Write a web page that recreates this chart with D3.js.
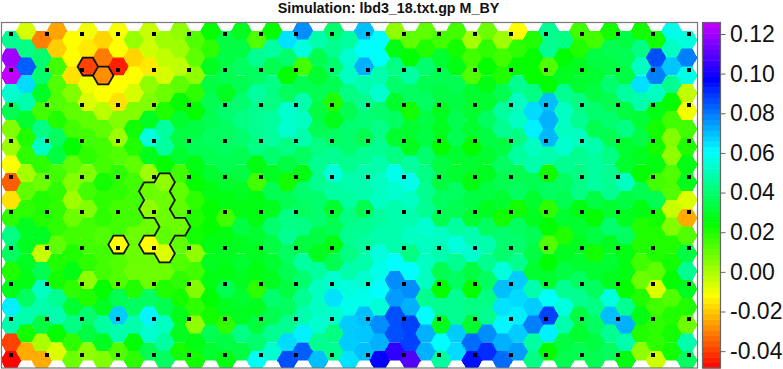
<!DOCTYPE html>
<html>
<head>
<meta charset="utf-8">
<script src="https://cdn.jsdelivr.net/npm/d3@7"></script>
<style>
  html, body { margin: 0; padding: 0; background: #fff; }
  svg { display: block; }
  text { font-family: "Liberation Sans", Arial, sans-serif; }
</style>
</head>
<body>
<div id="chart"></div>
<script>
const titleText = "Simulation: lbd3_18.txt.gp M_BY";

// component planes, one list per hex column, value x 1000
const hexColumns = [
  [45,120,125,54,36,6,2,-12,-35,-16,18,43,38,20,28,63,49,-39,-48],
  [-6,43,84,66,49,31,20,18,1,11,18,29,29,29,27,38,49,22,-24],
  [-30,40,40,30,15,43,52,18,9,20,20,29,-4,36,52,49,34,0,-24],
  [-25,-19,15,13,13,20,38,34,15,18,18,18,11,20,22,45,49,24,-7],
  [-12,-12,-16,6,11,15,24,11,6,2,9,15,20,27,18,31,43,18,9],
  [-10,-15,-39,-10,-7,11,15,18,6,15,6,15,15,18,4,20,40,34,4],
  [-18,-31,-28,-12,-2,11,15,15,22,18,18,13,15,15,24,29,47,29,6],
  [-11,-12,-44,-12,-16,6,2,13,18,18,15,15,-12,13,13,36,68,49,13],
  [3,-18,-12,-6,6,22,20,11,15,15,15,9,9,9,20,38,49,25,18],
  [-4,-5,-15,4,6,29,56,28,2,9,4,9,-12,9,9,38,62,54,36],
  [2,-3,-6,9,20,47,47,24,4,9,9,11,-7,9,20,36,52,47,38],
  [4,2,-3,11,24,31,34,31,15,11,11,9,11,13,18,22,28,29,22],
  [13,11,4,18,24,34,36,27,24,18,20,22,4,15,6,18,4,27,22],
  [24,18,29,34,36,36,38,36,31,27,24,24,27,29,27,25,22,36,31],
  [34,34,36,29,40,38,38,36,31,27,15,27,29,27,36,29,18,34,27],
  [29,34,38,36,40,43,40,36,34,29,27,34,29,31,29,31,29,43,34],
  [13,45,38,47,45,45,43,27,15,27,27,31,29,27,18,29,33,40,59],
  [24,47,36,43,43,47,47,40,29,36,29,40,34,31,29,40,36,45,54],
  [65,40,24,38,54,54,43,34,22,36,43,45,38,36,34,38,45,66,86],
  [77,56,15,36,49,52,49,38,27,40,38,43,34,47,40,45,49,63,84],
  [49,36,31,36,34,36,43,45,45,40,40,34,29,47,52,52,54,45,70],
  [40,45,40,36,20,28,38,45,56,47,31,36,27,36,54,65,54,43,45],
  [47,54,52,43,36,40,40,45,49,47,43,45,43,49,56,58,68,68,65],
  [70,61,72,49,45,41,36,45,49,49,36,45,47,49,54,58,70,69,70],
  [61,60,49,54,40,43,45,49,52,52,47,49,56,58,61,55,77,72,97],
  [4,27,43,40,31,38,31,43,58,54,49,49,49,61,77,75,86,86,104],
  [11,25,47,38,22,31,29,47,58,52,49,52,43,61,77,72,88,88,109],
  [11,20,40,36,38,34,34,40,43,45,45,54,52,52,52,45,61,72,72],
  [15,31,36,34,29,29,24,34,34,38,36,52,49,36,24,45,29,61,47],
  [15,22,27,36,34,36,36,31,31,38,36,47,56,45,38,45,45,68,66],
  [1,15,13,31,31,31,24,31,27,34,31,49,54,34,24,43,31,82,95],
  [9,18,24,27,31,38,34,31,29,34,29,38,49,45,38,43,45,77,91],
  [2,15,20,36,47,45,34,38,36,31,22,40,40,56,70,65,62,72,82],
  [-12,18,24,45,52,52,43,47,36,38,22,38,40,45,68,66,63,68,75],
  [20,24,24,43,66,63,52,49,36,31,29,36,34,31,49,68,79,47,43],
  [45,45,13,25,70,72,71,49,22,38,18,25,13,25,31,60,88,63,24],
  [43,25,29,45,52,52,54,45,38,36,31,20,29,34,45,56,49,34,36],
  [15,20,29,31,43,45,52,45,43,43,27,31,29,31,38,45,34,31,36],
  [15,34,31,34,40,36,49,47,47,34,24,34,22,31,38,43,38,34,36],
  [22,36,34,40,36,40,36,43,45,45,31,40,29,31,29,56,70,45,38],
  [34,36,34,47,34,43,31,31,52,34,29,38,27,27,24,45,72,49,27],
  [22,43,52,65,49,32,34,29,24,36,27,20,20,15,9,20,27,20,4],
  [22,86,79,52,27,22,22,27,15,36,22,20,20,11,-7,15,18,18,-5],
  [58,52,69,45,24,15,6,4,13,13,-4,6,20,22,24,13,20,22,22],
  [56,79,57,-3,-10,15,20,27,28,-7,-24,13,34,45,29,20,9,49,38],
];

// hexes inside the black contours, as [column, row]
const outlinedHexes = [
  [5,2],[6,2],
  [7,12],
  [9,9],[9,10],[9,12],[10,8],[10,9],[10,10],[10,11],[10,12],[11,11],
];

const colorTicks = [-0.04, -0.02, 0, 0.02, 0.04, 0.06, 0.08, 0.1, 0.12];
const colorTickLabels = ["-0.04", "-0.02", "0.00", "0.02", "0.04", "0.06", "0.08", "0.10", "0.12"];
const colorDomain = [-0.0485, 0.1258];
const markerCols = d3.range(20);
const markerRows = d3.range(10);

const svgWidth = 783;
const svgHeight = 369;
const plot = { left: 1.5, top: 22.5, right: 697.5, bottom: 368 };
const bar = { left: 702.5, right: 720.5 };
const hexRadius = 10.25;

const svg = d3.select("#chart").append("svg").attr("width", svgWidth).attr("height", svgHeight);

// Scales
const x = d3.scaleLinear().domain([0, 44]).range([11, 687]);
const y = d3.scaleLinear().domain([0, 18]).range([31, 351.4]);
const markerX = d3.scaleLinear().domain([0, 19]).range([11, 689]);
const markerY = d3.scaleLinear().domain([0, 9]).range([34, 355]);
const hue = d3.scaleLinear().domain(colorDomain).range([0, 287]).clamp(true);
const barY = d3.scaleLinear().domain(colorDomain).range([plot.bottom, plot.top]);
const color = (v) => d3.hsl(hue(v), 1, 0.5).formatHex();

const hexX = (c) => x(c);
const hexY = (c, r) => y(c % 2 === 0 ? r + 0.5 : r);

function hexCorners(c, r) {
  const cx = hexX(c);
  const cy = hexY(c, r);
  return d3.range(6).map((i) => [
    cx + hexRadius * Math.cos((i * Math.PI) / 3),
    cy + hexRadius * Math.sin((i * Math.PI) / 3),
  ]);
}

svg.append("defs").append("clipPath").attr("id", "plot-clip").append("rect")
  .attr("x", plot.left).attr("y", plot.top)
  .attr("width", plot.right - plot.left).attr("height", plot.bottom - plot.top);

const plotG = svg.append("g").attr("clip-path", "url(#plot-clip)");

const cells = hexColumns.flatMap((col, c) => col.map((v, r) => ({ c, r, value: v / 1000 })));

plotG.selectAll("path.hex").data(cells).enter().append("path")
  .attr("class", "hex")
  .attr("d", (d) => "M" + hexCorners(d.c, d.r).join("L") + "Z")
  .attr("fill", (d) => color(d.value))
  .attr("stroke", (d) => color(d.value))
  .attr("stroke-width", 0.5)
  .attr("shape-rendering", "crispEdges");

// Contours: keep only the edges that belong to one outlined hex
const edgeCount = new Map();
outlinedHexes.forEach(([c, r]) => {
  const pts = hexCorners(c, r);
  pts.forEach((p, i) => {
    const q = pts[(i + 1) % 6];
    const key = Math.round((p[0] + q[0]) / 2) + "," + Math.round((p[1] + q[1]) / 2);
    const e = edgeCount.get(key) || { n: 0, p, q };
    e.n += 1;
    edgeCount.set(key, e);
  });
});
const contour = d3.path();
edgeCount.forEach((e) => {
  if (e.n === 1) {
    contour.moveTo(e.p[0], e.p[1]);
    contour.lineTo(e.q[0], e.q[1]);
  }
});
plotG.append("path")
  .attr("d", contour.toString())
  .attr("fill", "none")
  .attr("stroke", "#111")
  .attr("stroke-width", 1.8)
  .attr("stroke-linecap", "round");

// Sample markers
const markers = markerRows.flatMap((j) => markerCols.map((i) => ({ i, j })));
plotG.selectAll("rect.marker").data(markers).enter().append("rect")
  .attr("class", "marker")
  .attr("x", (d) => Math.round(markerX(d.i)) - 2)
  .attr("y", (d) => Math.round(markerY(d.j)) - 2)
  .attr("width", 4)
  .attr("height", 4)
  .attr("fill", "#000");

// Frame
svg.append("rect")
  .attr("x", plot.left).attr("y", plot.top)
  .attr("width", plot.right - plot.left).attr("height", plot.bottom - plot.top)
  .attr("fill", "none").attr("stroke", "#777").attr("stroke-width", 1.2);

// Color bar
const levels = d3.range(64);
const levelValue = d3.scaleLinear().domain([0, 64]).range(colorDomain);
svg.selectAll("rect.level").data(levels).enter().append("rect")
  .attr("class", "level")
  .attr("x", bar.left)
  .attr("width", bar.right - bar.left)
  .attr("y", (d) => barY(levelValue(d + 1)))
  .attr("height", (d) => barY(levelValue(d)) - barY(levelValue(d + 1)) + 0.5)
  .attr("fill", (d) => color(levelValue(d + 0.5)));

svg.append("rect")
  .attr("x", bar.left).attr("y", plot.top)
  .attr("width", bar.right - bar.left).attr("height", plot.bottom - plot.top)
  .attr("fill", "none").attr("stroke", "#666").attr("stroke-width", 1.2);

const colorAxis = d3.axisRight(barY)
  .tickValues(colorTicks)
  .tickSize(5)
  .tickPadding(4.5)
  .tickFormat((d, i) => colorTickLabels[i]);

const axisG = svg.append("g").attr("transform", `translate(${bar.right},0)`).call(colorAxis);
axisG.select(".domain").remove();
axisG.selectAll("line").attr("stroke", "#666");
axisG.selectAll("text").attr("font-size", 23).attr("fill", "#111")
  .attr("font-family", '"Liberation Sans", Arial, sans-serif');

// Title
svg.append("text")
  .attr("x", 388.5)
  .attr("y", 13)
  .attr("text-anchor", "middle")
  .attr("font-size", 14.3)
  .attr("font-weight", "bold")
  .attr("fill", "#111")
  .text(titleText);
</script>
</body>
</html>
